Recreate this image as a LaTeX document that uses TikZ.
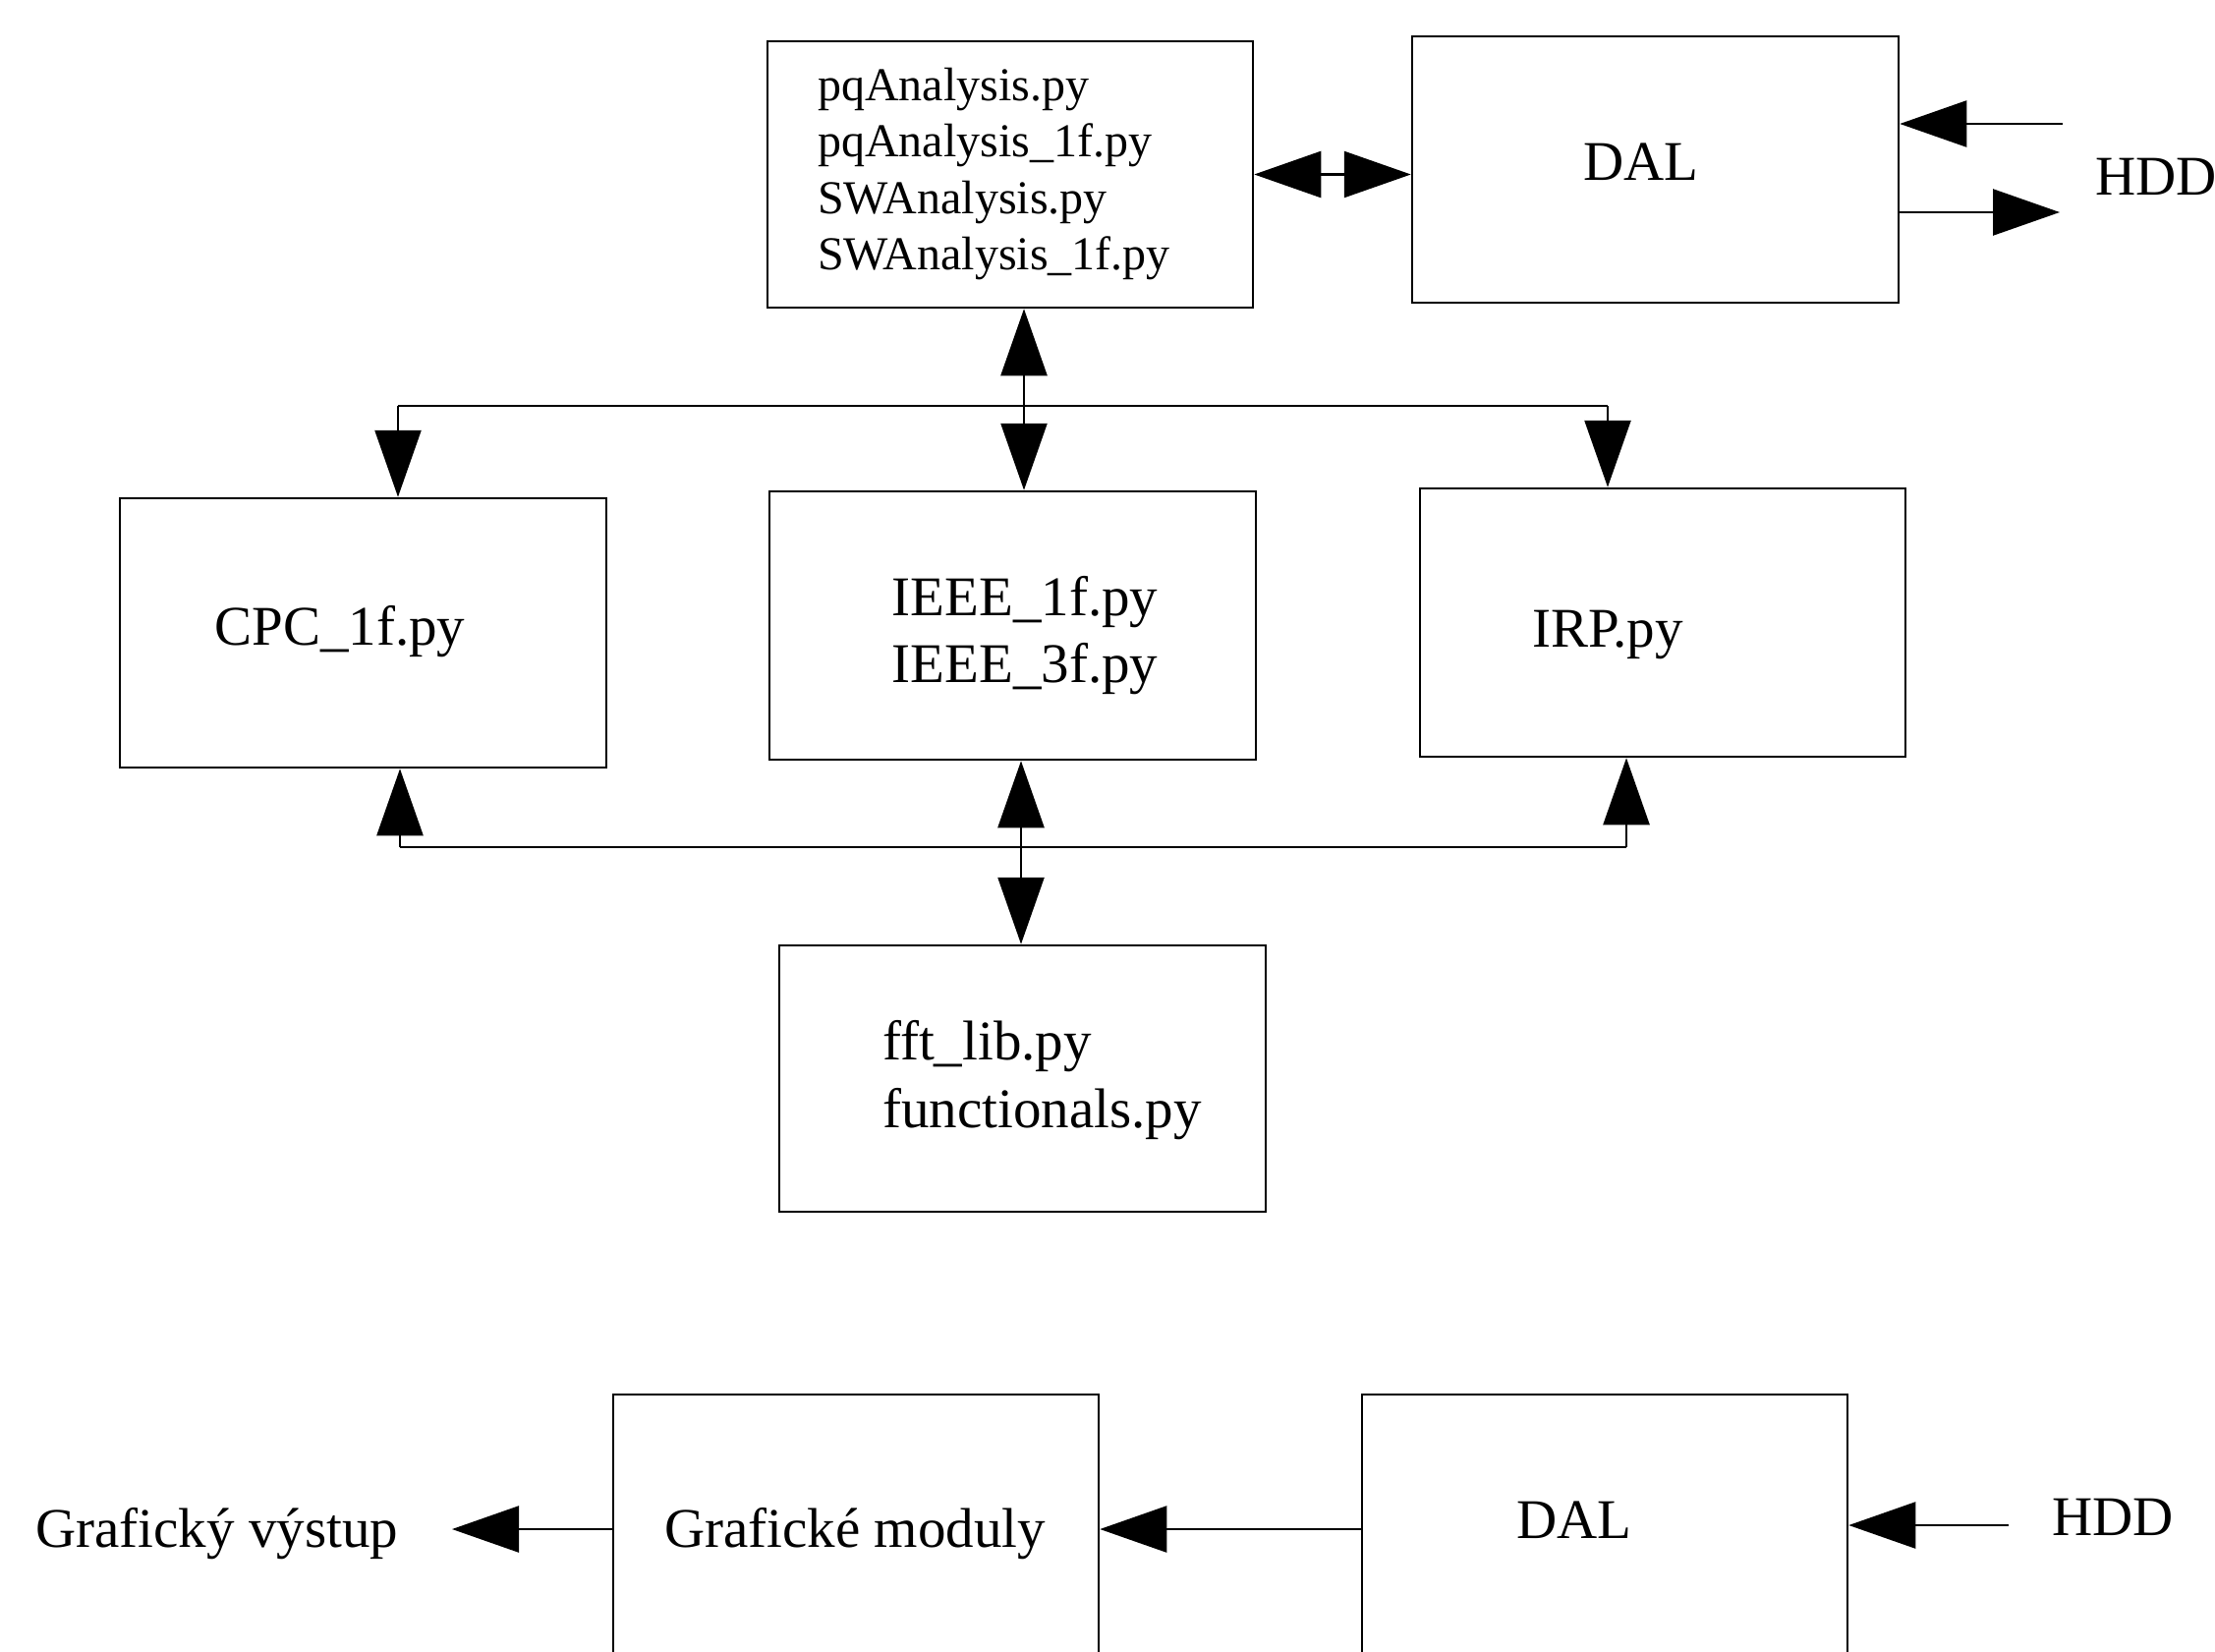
\documentclass[tikz,border=0pt]{standalone}
\usepackage{fontspec}
\setmainfont{Liberation Serif}
\usetikzlibrary{arrows.meta}
\begin{document}
\begin{tikzpicture}[x=1pt,y=-1pt,
  box/.style={draw, line width=2.5pt, rectangle, inner sep=0pt},
  lbl/.style={font=\fontsize{57}{68}\selectfont, inner sep=0pt, align=center},
  lbll/.style={font=\fontsize{57}{69}\selectfont, inner sep=0pt, align=left},
  small/.style={font=\fontsize{48}{57.5}\selectfont, inner sep=0pt, align=left},
  conn/.style={line width=2.5pt},
  tip/.style={-{Triangle[length=68pt,width=47pt]}},
  dtip/.style={{Triangle[length=68pt,width=47pt]}-{Triangle[length=68pt,width=47pt]}},
]
\useasboundingbox (0,0) rectangle (2254,1681);
\clip (0,0) rectangle (2254,1681);

% boxes
\node[box, minimum width=494pt, minimum height=271pt] (pq) at (1028,177.5) {};
\node[box, minimum width=495pt, minimum height=271pt] (dal) at (1684.5,172.5) {};
\node[box, minimum width=495pt, minimum height=274pt] (cpc) at (369.5,644) {};
\node[box, minimum width=495pt, minimum height=273pt] (ieee) at (1030.5,636.5) {};
\node[box, minimum width=494pt, minimum height=273pt] (irp) at (1692,633.5) {};
\node[box, minimum width=495pt, minimum height=271pt] (fft) at (1040.5,1097.5) {};
\node[box, minimum width=494pt, minimum height=300pt] (gm) at (871,1569) {};
\node[box, minimum width=494pt, minimum height=300pt] (dalb) at (1633,1569) {};

% labels
\node[small, anchor=west] (pqt) at (832,177) {pqAnalysis.py\\pqAnalysis\_1f.py\\SWAnalysis.py\\SWAnalysis\_1f.py};
\node[lbl] (dalt) at (1670,165) {DAL};
\node[lbl, anchor=west] (hddt) at (2132,180) {HDD};
\node[lbl] (cpct) at (346,643) {CPC\_1f.py};
\node[lbl] (ieeet) at (1043,647) {IEEE\_1f.py\\IEEE\_3f.py};
\node[lbl] (irpt) at (1636,646) {IRP.py};
\node[lbll, anchor=west] (fftt) at (898,1099) {fft\_lib.py\\functionals.py};
\node[lbl, anchor=west] (gvt) at (36,1561) {Grafický výstup};
\node[lbl] (gmt) at (870,1561) {Grafické moduly};
\node[lbl] (dalbt) at (1602,1547) {DAL};
\node[lbl] (hddbt) at (2150,1544) {HDD};

% junction coordinates
\coordinate (jt) at (1042,413);
\coordinate (tl) at (405,413);
\coordinate (tr) at (1636,413);
\coordinate (bl) at (407,862);
\coordinate (br) at (1655,862);
\coordinate (jb) at (1039,862);
\coordinate (hddin) at (2099,126);
\coordinate (hddout) at (2096,216);
\coordinate (outL) at (460,1556);
\coordinate (hddbin) at (2044,1552);

% connectors
\draw[conn,dtip] (pq.east) -- (pq.east -| dal.west);
\draw[conn,tip] (hddin) -- (hddin -| dal.east);
\draw[conn,tip] (hddout -| dal.east) -- (hddout);
\draw[conn,dtip] (jt |- pq.south) -- (jt |- ieee.north);
\draw[conn] (tl) -- (tr);
\draw[conn,tip] (tl) -- (tl |- cpc.north);
\draw[conn,tip] (tr) -- (tr |- irp.north);
\draw[conn,dtip] (jb |- ieee.south) -- (jb |- fft.north);
\draw[conn] (bl) -- (br);
\draw[conn,tip] (bl) -- (bl |- cpc.south);
\draw[conn,tip] (br) -- (br |- irp.south);
\draw[conn,tip] (gm.west |- outL) -- (outL);
\draw[conn,tip] (dalb.west |- outL) -- (gm.east |- outL);
\draw[conn,tip] (hddbin) -- (hddbin -| dalb.east);
\end{tikzpicture}
\end{document}
